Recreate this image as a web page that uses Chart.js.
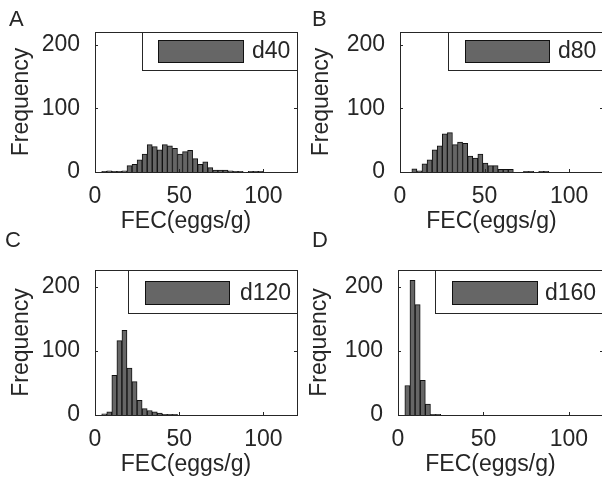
<!DOCTYPE html>
<html lang="en">
<head>
<meta charset="UTF-8">
<title>FEC histograms</title>
<script src="https://cdn.jsdelivr.net/npm/chart.js"></script>
<style>
  body { margin: 0; width: 602px; height: 484px; overflow: hidden; background: #fff; position: relative; }
  canvas { position: absolute; }
</style>
</head>
<body>
<canvas id="cA" width="301" height="242" style="left:0;top:0"></canvas>
<canvas id="cB" width="310" height="242" style="left:301px;top:0"></canvas>
<canvas id="cC" width="301" height="258" style="left:0;top:226px"></canvas>
<canvas id="cD" width="310" height="258" style="left:301px;top:226px"></canvas>
<script>
// bin centres (width 3) and counts
const binsA = [5.5, 8.5, 11.5, 14.5, 17.5, 20.5, 23.5, 26.5, 29.5, 32.5, 35.5, 38.5, 41.5, 44.5, 47.5, 50.5, 53.5, 56.5, 59.5, 62.5, 65.5, 68.5, 71.5, 74.5, 77.5, 80.5, 83.5, 86.5, 89.5, 92.5, 95.5, 98.5, 101.5];
const countsA = [1, 2, 1, 1, 2, 10, 12, 19, 28, 43, 40, 35, 43, 41, 37, 28, 32, 34, 21, 12, 16, 7, 3, 3, 3, 2, 1, 1, 0, 1, 1, 1, 0];

const binsB = [8.5, 11.5, 14.5, 17.5, 20.5, 23.5, 26.5, 29.5, 32.5, 35.5, 38.5, 41.5, 44.5, 47.5, 50.5, 53.5, 56.5, 59.5, 62.5, 65.5, 68.5, 71.5, 74.5, 77.5, 80.5, 83.5, 86.5];
const countsB = [5, 2, 13, 19, 35, 41, 60, 62, 43, 47, 45, 25, 22, 28, 14, 10, 10, 4, 4, 4, 0, 0, 1, 1, 0, 1, 1];

const binsC = [5.5, 8.5, 11.5, 14.5, 17.5, 20.5, 23.5, 26.5, 29.5, 32.5, 35.5, 38.5, 41.5, 44.5, 47.5];
const countsC = [2, 5, 62, 116, 132, 73, 52, 23, 10, 7, 5, 3, 1, 1, 1];

const binsD = [5.5, 8.5, 11.5, 14.5, 17.5, 20.5, 23.5];
const countsD = [46, 210, 172, 54, 17, 1, 1];

const xTicks = [0, 50, 100];
const yTicks = [0, 100, 200];
const FONT = "'Liberation Sans', Arial, sans-serif";
const FS = 23;
const INK = '#262626';
const BAR = '#666666';

// box round the axes, inner tick marks, x label, boxed legend and panel letter
const matlabLook = {
  id: 'matlabLook',
  afterDraw(chart, args, o) {
    const {ctx, chartArea: a} = chart;
    const xs = chart.scales.x, ys = chart.scales.y;
    ctx.save();
    ctx.strokeStyle = INK;
    ctx.lineWidth = 1;
    ctx.beginPath();
    xs.ticks.forEach(t => {
      const p = Math.round(xs.getPixelForValue(t.value)) + 0.5;
      ctx.moveTo(p, a.bottom); ctx.lineTo(p, a.bottom - 3);
      ctx.moveTo(p, a.top); ctx.lineTo(p, a.top + 3);
    });
    ys.ticks.forEach(t => {
      const p = Math.round(ys.getPixelForValue(t.value)) + 0.5;
      ctx.moveTo(a.left, p); ctx.lineTo(a.left + 3, p);
      ctx.moveTo(a.right, p); ctx.lineTo(a.right - 3, p);
    });
    ctx.stroke();
    ctx.strokeRect(Math.round(a.left) + 0.5, Math.round(a.top) + 0.5,
      Math.round(a.right - a.left), Math.round(a.bottom - a.top));

    ctx.fillStyle = INK;
    ctx.font = FS + 'px ' + FONT;
    ctx.textAlign = 'center';
    ctx.textBaseline = 'middle';
    ctx.fillText('FEC(eggs/g)', (a.left + a.right) / 2 - 10, a.bottom + o.xTitleDy);

    // legend
    const [bx, by, bw, bh] = o.box;
    ctx.fillStyle = '#fff';
    ctx.fillRect(bx, by, bw, bh);
    ctx.strokeRect(bx + 0.5, by + 0.5, bw, bh);
    const [sx, sy, sw, sh] = o.swatch;
    const ds = chart.data.datasets[0];
    ctx.fillStyle = ds.backgroundColor;
    ctx.fillRect(sx, sy, sw, sh);
    ctx.strokeStyle = ds.borderColor;
    ctx.strokeRect(sx + 0.5, sy + 0.5, sw, sh);
    ctx.fillStyle = INK;
    ctx.textAlign = 'left';
    ctx.fillText(ds.label, o.textX, sy + sh / 2 + 1);

    // panel letter
    ctx.font = '22px ' + FONT;
    ctx.textBaseline = 'top';
    ctx.fillText(o.letter, o.letterPos[0], o.letterPos[1]);
    ctx.restore();
  }
};

function histPanel(id, label, bins, counts, area, look) {
  const canvas = document.getElementById(id);
  const w = canvas.width, h = canvas.height;
  new Chart(canvas, {
    type: 'bar',
    data: {
      datasets: [{
        label: label,
        data: bins.map((b, i) => ({x: b, y: counts[i]})),
        backgroundColor: BAR,
        borderColor: '#111111',
        borderWidth: 1,
        barPercentage: 1,
        categoryPercentage: 1
      }]
    },
    options: {
      responsive: false,
      animation: false,
      layout: { padding: { left: 0, top: area.t, right: w - area.r, bottom: 0 } },
      plugins: {
        legend: { display: false },
        tooltip: { enabled: false },
        matlabLook: look
      },
      scales: {
        x: {
          type: 'linear',
          min: 0,
          max: 120,
          offset: false,
          grid: { display: false, offset: false },
          border: { display: false },
          afterFit: s => { s.height = h - area.b; },
          afterBuildTicks: s => { s.ticks = xTicks.map(v => ({value: v})); },
          ticks: { color: INK, padding: 3, maxRotation: 0, font: { family: FONT, size: FS } }
        },
        y: {
          min: 0,
          max: area.ymax,
          grid: { display: false },
          border: { display: false },
          afterFit: s => { s.width = area.l; },
          afterBuildTicks: s => { s.ticks = yTicks.map(v => ({value: v})); },
          ticks: { color: INK, padding: 7, font: { family: FONT, size: FS } },
          title: { display: true, text: 'Frequency', color: INK, padding: { top: area.titleX - 14 }, font: { family: FONT, size: FS } }
        }
      }
    },
    plugins: [matlabLook]
  });
}

histPanel('cA', 'd40', binsA, countsA,
  { l: 95, t: 32, r: 297, b: 172, ymax: 220, titleX: 22 },
  { box: [142, 32, 155, 38], swatch: [158, 40, 85, 22], textX: 252, letter: 'A', letterPos: [9, 9], xTitleDy: 50 });
histPanel('cB', 'd80', binsB, countsB,
  { l: 99, t: 32, r: 302, b: 172, ymax: 220, titleX: 21 },
  { box: [147, 32, 160, 38], swatch: [164, 40, 84, 22], textX: 257, letter: 'B', letterPos: [11, 9], xTitleDy: 50 });
histPanel('cC', 'd120', binsC, countsC,
  { l: 95, t: 44, r: 297, b: 189, ymax: 226, titleX: 22 },
  { box: [128, 44, 169, 43], swatch: [145, 55, 84, 23], textX: 240, letter: 'C', letterPos: [5, 4], xTitleDy: 50 });
histPanel('cD', 'd160', binsD, countsD,
  { l: 97, t: 44, r: 302, b: 189, ymax: 226, titleX: 19 },
  { box: [134, 44, 175, 43], swatch: [151, 55, 85, 23], textX: 244, letter: 'D', letterPos: [11, 4], xTitleDy: 50 });
</script>
</body>
</html>
